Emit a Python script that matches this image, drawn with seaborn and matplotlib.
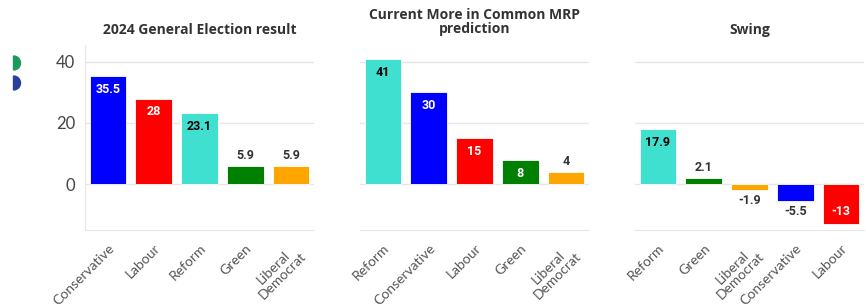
import matplotlib
matplotlib.use("Agg")
import matplotlib.pyplot as plt
from matplotlib.patches import Wedge
import pandas as pd
import seaborn as sns

# data
ge_parties = ["Conservative", "Labour", "Reform", "Green", "Liberal Democrat"]
ge_values = [35.5, 28, 23.1, 5.9, 5.9]

mrp_parties = ["Reform", "Conservative", "Labour", "Green", "Liberal Democrat"]
mrp_values = [41, 30, 15, 8, 4]

swing_parties = ["Reform", "Green", "Liberal Democrat", "Conservative", "Labour"]
swing_values = [17.9, 2.1, -1.9, -5.5, -13]

titles = ["2024 General Election result", "Current More in Common MRP\nprediction", "Swing"]

party_colors = {
    "Conservative": "#0000FF",
    "Labour": "#FF0000",
    "Reform": "#40E0D0",
    "Green": "#008000",
    "Liberal Democrat": "#FFA500",
}

sns.set_style("white")
plt.rcParams["font.family"] = ["Lato", "DejaVu Sans"]

fig = plt.figure(figsize=(8.66, 3.07), dpi=100)
W, H = 866, 307
panels = [(85, ge_parties, ge_values), (360, mrp_parties, mrp_values), (635, swing_parties, swing_values)]

grid_col = "#e6e6e6"
for i, (left_px, parties, values) in enumerate(panels):
    ax = fig.add_axes([left_px / W, 1 - 230 / H, 229 / W, 185 / H])
    df = pd.DataFrame({"party": parties, "value": values})
    sns.barplot(data=df, x="party", y="value", hue="party", palette=party_colors,
                saturation=1, width=0.8, legend=False, ax=ax, edgecolor="white", linewidth=0.6)
    ax.set_ylim(-15, 45.5)
    ax.set_xlim(-0.5, 4.5)
    ax.set_yticks([0, 20, 40])
    ax.yaxis.grid(True, color=grid_col, linewidth=1)
    ax.set_axisbelow(True)
    ax.set_xlabel("")
    ax.set_ylabel("")
    for s in ["top", "right"]:
        ax.spines[s].set_visible(False)
    ax.spines["bottom"].set_color(grid_col)
    ax.spines["left"].set_color(grid_col)
    ax.spines["left"].set_visible(i == 0)
    ax.tick_params(axis="x", length=5, color=grid_col, width=1)
    ax.tick_params(axis="y", length=3, color=grid_col, labelsize=12, labelcolor="#444444", pad=4)
    if i > 0:
        ax.tick_params(axis="y", labelleft=False, length=0)
    ax.set_xticks(range(len(parties)))
    ax.set_xticklabels([p.replace(" ", "\n") for p in parties], rotation=45, ha="right",
                       rotation_mode="anchor", fontsize=10, color="#555555",
                       multialignment="center", linespacing=1.0)
    ax.set_title(titles[i], fontsize=10, fontweight="bold", color="#333333",
                 pad=8 if i != 1 else 9, linespacing=0.95, family=["Open Sans", "DejaVu Sans"])

    # value labels
    for bar, v, p in zip(ax.patches, values, parties):
        x = bar.get_x() + bar.get_width() / 2
        inside = abs(v) >= 8
        if inside:
            col = "black" if p == "Reform" else "white"
            off = -5 if v > 0 else 4
            va = "top" if v > 0 else "bottom"
        else:
            col = "#333333"
            off = 3 if v > 0 else -3
            va = "bottom" if v > 0 else "top"
        ax.annotate(f"{v:g}", (x, v), xytext=(0, off), textcoords="offset points",
                    ha="center", va=va, fontsize=9, fontweight="bold", color=col,
                    family=["Roboto", "DejaVu Sans"])

# clipped legend markers at the left edge
for yy, c in [(63, "#1a9a5a"), (83, "#2a3f9a")]:
    fig.patches.append(Wedge((0.135, (H - yy) / 100), 0.07, -90, 90, color=c,
                             transform=fig.dpi_scale_trans, figure=fig))

fig.savefig("out.png", dpi=100)
